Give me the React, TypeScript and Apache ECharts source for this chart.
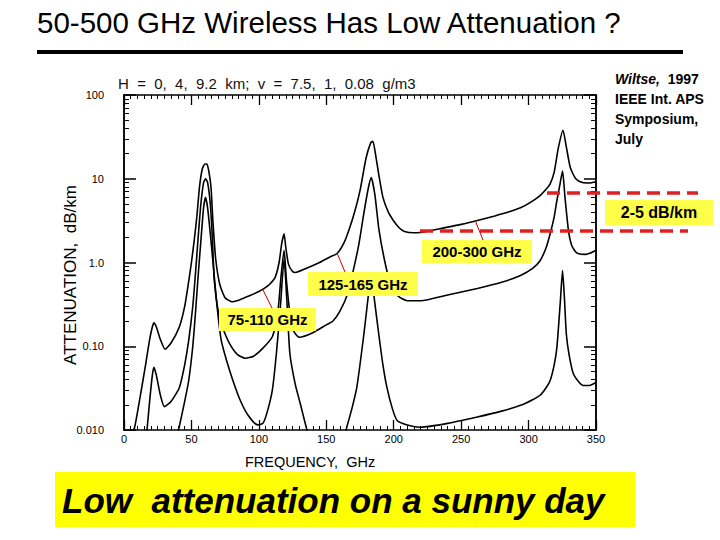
import React, { useEffect, useRef } from 'react';
import * as echarts from 'echarts';

// attenuation (dB/km) vs frequency (GHz)
// H = 0 km (sea level), v = 7.5 g/m3
const seaLevel: [number, number][] = [
  [5, 0.008], [8, 0.011], [12, 0.025], [16, 0.06], [19, 0.12], [21, 0.17], [22.2, 0.19], [24, 0.17],
  [27, 0.12], [30.5, 0.092], [35, 0.11], [41, 0.17], [45, 0.3], [48, 0.6], [50, 1.0], [52, 1.8],
  [54, 3.5], [56, 8], [58, 13], [60, 15], [61.5, 15], [63, 12], [64.5, 8], [66, 3], [68, 1.1],
  [71, 0.55], [75, 0.38], [80, 0.34], [86, 0.36], [93, 0.4], [100, 0.45], [104, 0.49], [108, 0.55],
  [112, 0.66], [115, 1.0], [117, 1.7], [118.7, 2.2], [120, 1.5], [122, 0.95], [125, 0.78], [127, 0.76],
  [135, 0.85], [145, 1.0], [152, 1.15], [158, 1.28], [163, 1.7], [167, 2.5], [171, 4], [175, 7.2],
  [179.5, 17.7], [183, 27], [184.5, 28], [186, 22], [189, 11], [192, 6], [196, 4], [199.6, 3.2],
  [204, 2.6], [208, 2.35], [215, 2.27], [220, 2.28], [235, 2.55], [250, 2.85], [262, 3.17], [275, 3.6],
  [285, 4.0], [294, 4.5], [302, 5.3], [308.5, 6.3], [313, 7.5], [316, 8.7], [319, 12], [322, 23],
  [325.5, 38], [328, 24], [331, 13.5], [335, 10], [340, 9], [345, 8.9], [350, 9.2],
];

// H = 4 km, v = 1 g/m3
const fourKm: [number, number][] = [
  [14, 0.005], [17, 0.01], [19, 0.022], [21, 0.045], [22.2, 0.056], [24, 0.045], [27, 0.026], [30, 0.019],
  [35, 0.022], [41, 0.032], [45, 0.06], [48, 0.118], [51, 0.3], [53, 0.74], [55, 2], [57, 5], [59, 9],
  [60.5, 10], [62, 9], [64, 5], [65.5, 2], [67, 0.6], [70, 0.25], [73, 0.17], [78, 0.11], [84, 0.08],
  [90, 0.072], [96, 0.076], [103, 0.095], [110, 0.13], [114, 0.25], [116.5, 0.7], [118.7, 1.4],
  [120.5, 0.6], [123, 0.25], [126, 0.15], [130, 0.128], [140, 0.145], [150, 0.18], [155, 0.2],
  [160, 0.26], [166, 0.43], [170, 0.8], [174, 1.6], [178, 4], [181, 7.5], [183.3, 10.3], [186, 6.5],
  [189, 2.5], [193, 1.1], [197, 0.6], [203, 0.4], [210, 0.35], [220, 0.35], [240, 0.41], [262, 0.49],
  [280, 0.58], [294, 0.7], [303, 0.85], [308.5, 1.05], [313, 1.5], [316, 2.2], [319, 3.5], [321, 5.5],
  [323.5, 9], [325.2, 12.4], [327, 6], [329.6, 2.4], [332, 1.6], [335.7, 1.3], [342, 1.25], [346, 1.3],
  [350, 1.4],
];

// H = 9.2 km, v = 0.08 g/m3
const nineKm: [number, number][] = [
  [38, 0.007], [41, 0.011], [45, 0.022], [48, 0.039], [51, 0.1], [53, 0.25], [55, 0.7], [57, 1.8],
  [59, 4.5], [60.5, 6], [62, 4.5], [64, 2.2], [66, 1.0], [69, 0.3], [72, 0.12], [76, 0.068], [81, 0.038],
  [86, 0.023], [92, 0.015], [99, 0.0115], [103, 0.012], [106, 0.016], [110, 0.03], [113, 0.082],
  [116, 0.3], [118.7, 1.1], [121, 0.3], [123, 0.082], [127, 0.035], [130.6, 0.021], [135, 0.011],
  [140, 0.006], [160, 0.005], [165, 0.0105], [169, 0.018], [172.6, 0.032], [177.6, 0.128], [181, 0.38],
  [183.3, 0.75], [185.5, 0.38], [188.9, 0.14], [192, 0.06], [195, 0.032], [199, 0.018], [202.5, 0.013],
  [210, 0.0115], [220, 0.0108], [240, 0.012], [262, 0.0143], [280, 0.0168], [294, 0.0197], [303, 0.023],
  [308.5, 0.026], [313, 0.032], [316, 0.039], [319, 0.06], [321, 0.097], [323.6, 0.35], [325.2, 0.8],
  [326.5, 0.4], [328, 0.14], [330, 0.08], [333, 0.048], [337, 0.038], [340.6, 0.034], [345, 0.034],
  [350, 0.037],
];

const yDecadeLabels: Record<string, string> = { '-2': '0.010', '-1': '0.10', '0': '1.0', '1': '10', '2': '100' };

// log minor ticks 2..9 within each decade
const yMinorTicks: number[] = [];
[0.01, 0.1, 1, 10].forEach((d) => {
  for (let k = 2; k <= 9; k++) yMinorTicks.push(+(d * k).toPrecision(3));
});

const bandLabels = [
  { text: '75-110 GHz', x: 219, y: 308, w: 97, h: 23, from: [263, 290], to: [272, 308] },
  { text: '125-165 GHz', x: 308, y: 272, w: 110, h: 24, from: [337, 253], to: [345, 272] },
  { text: '200-300 GHz', x: 422, y: 240, w: 110, h: 23, from: [475, 220], to: [483, 240] },
];

const App: React.FC = () => {
  const chartRef = useRef<HTMLDivElement>(null);

  useEffect(() => {
    document.body.style.margin = '0';
    if (!chartRef.current) return;
    const chart = echarts.init(chartRef.current, undefined, { renderer: 'svg' });

    const axisLine = { show: true, lineStyle: { color: '#000', width: 1.5 } };
    const scanFont = 'Liberation Sans, Arial, sans-serif';
    const xBase = {
      type: 'value' as const,
      min: 0,
      max: 350,
      interval: 50,
      axisLine,
      splitLine: { show: false },
      axisTick: { inside: true, length: 10, lineStyle: { color: '#000', width: 1.3 } },
      minorTick: { show: true, splitNumber: 10, length: 4, lineStyle: { color: '#000', width: 1 } },
    };
    const yBase = {
      type: 'log' as const,
      min: 0.01,
      max: 100,
      logBase: 10,
      axisLine,
      splitLine: { show: false },
    };
    const majorTick = { inside: true, length: 12, lineStyle: { color: '#000', width: 1.5 } };
    const minorTick = { inside: true, length: 5, customValues: yMinorTicks, lineStyle: { color: '#000', width: 1 } };

    const line = (name: string, data: [number, number][]) => ({
      name,
      type: 'line',
      data,
      showSymbol: false,
      smooth: 0.2,
      clip: true,
      lineStyle: { color: '#000', width: 1.6 },
      z: 3,
    });

    const graphic: any[] = [
      {
        type: 'text', left: 37, top: 7,
        style: { text: '50-500 GHz Wireless Has Low Attenuation ?', font: '29.5px Liberation Sans, Arial, sans-serif', fill: '#000' },
      },
      { type: 'rect', shape: { x: 37, y: 50, width: 646, height: 4 }, style: { fill: '#000' } },
      {
        type: 'text', x: 70, y: 275, rotation: Math.PI / 2,
        style: {
          text: 'ATTENUATION,  dB/km', font: '17px Liberation Sans, Arial, sans-serif', fill: '#000',
          align: 'center', verticalAlign: 'middle',
        },
      },
      {
        type: 'text', left: 615, top: 69,
        style: {
          text: '{i|Wiltse,}  1997\nIEEE Int. APS\nSymposium,\nJuly',
          font: 'bold 14px Liberation Sans, Arial, sans-serif', fill: '#000', lineHeight: 20,
          rich: { i: { font: 'italic bold 14px Liberation Sans, Arial, sans-serif', fill: '#000' } },
        },
      },
      {
        type: 'line', shape: { x1: 547, y1: 193, x2: 698, y2: 193 },
        style: { stroke: '#e02020', lineWidth: 3.5, lineDash: [13, 7] }, z: 10,
      },
      {
        type: 'line', shape: { x1: 420, y1: 231, x2: 688, y2: 231 },
        style: { stroke: '#e02020', lineWidth: 3.5, lineDash: [13, 7] }, z: 10,
      },
      { type: 'rect', shape: { x: 605, y: 200, width: 108, height: 25 }, style: { fill: '#ffff4a' }, z: 10 },
      {
        type: 'text', x: 659, y: 212.5, z: 11,
        style: { text: '2-5 dB/km', font: 'bold 16px Liberation Sans, Arial, sans-serif', fill: '#000', align: 'center', verticalAlign: 'middle' },
      },
      { type: 'rect', shape: { x: 55, y: 472, width: 580, height: 55 }, style: { fill: '#ffff00' }, z: 10 },
      {
        type: 'text', x: 62, y: 500, z: 11,
        style: { text: 'Low  attenuation on a sunny day', font: 'italic bold 35px Liberation Sans, Arial, sans-serif', fill: '#000', verticalAlign: 'middle' },
      },
    ];
    bandLabels.forEach((b) => {
      graphic.push(
        {
          type: 'line', shape: { x1: b.from[0], y1: b.from[1], x2: b.to[0], y2: b.to[1] },
          style: { stroke: '#c00000', lineWidth: 1 }, z: 10,
        },
        { type: 'rect', shape: { x: b.x, y: b.y, width: b.w, height: b.h }, style: { fill: '#ffff4a' }, z: 10 },
        {
          type: 'text', x: b.x + b.w / 2, y: b.y + b.h / 2, z: 11,
          style: { text: b.text, font: 'bold 15px Liberation Sans, Arial, sans-serif', fill: '#000', align: 'center', verticalAlign: 'middle' },
        },
      );
    });

    chart.setOption({
      animation: false,
      backgroundColor: '#fff',
      title: {
        text: 'H  =  0,  4,  9.2  km;  v  =  7.5,  1,  0.08  g/m3',
        left: 113,
        top: 71,
        textStyle: { fontFamily: scanFont, fontSize: 15, fontWeight: 'normal', color: '#111' },
      },
      grid: { left: 124, top: 95, right: 124, bottom: 110 },
      xAxis: [
        {
          ...xBase,
          position: 'bottom',
          axisLabel: { fontFamily: scanFont, fontSize: 11, color: '#000', margin: 3 },
          name: 'FREQUENCY,  GHz',
          nameLocation: 'middle',
          nameGap: 24,
          nameTextStyle: { fontFamily: scanFont, fontSize: 14.5, color: '#000', padding: [0, 100, 0, 0] },
        },
        { ...xBase, position: 'top', axisLabel: { show: false } },
      ],
      yAxis: [
        {
          ...yBase,
          position: 'left',
          axisTick: majorTick,
          axisLabel: {
            fontFamily: scanFont, fontSize: 11, color: '#000', margin: 20,
            formatter: (v: number) => yDecadeLabels[String(Math.round(Math.log10(v)))] ?? '',
          },
        },
        { ...yBase, position: 'left', axisTick: minorTick, axisLabel: { show: false } },
        { ...yBase, position: 'right', axisTick: majorTick, axisLabel: { show: false } },
        { ...yBase, position: 'right', axisTick: minorTick, axisLabel: { show: false } },
      ],
      series: [line('H = 0 km', seaLevel), line('H = 4 km', fourKm), line('H = 9.2 km', nineKm)],
      graphic,
    });

    return () => {
      chart.dispose();
    };
  }, []);

  return <div ref={chartRef} style={{ width: '720px', height: '540px' }}></div>;
};

export default App;
